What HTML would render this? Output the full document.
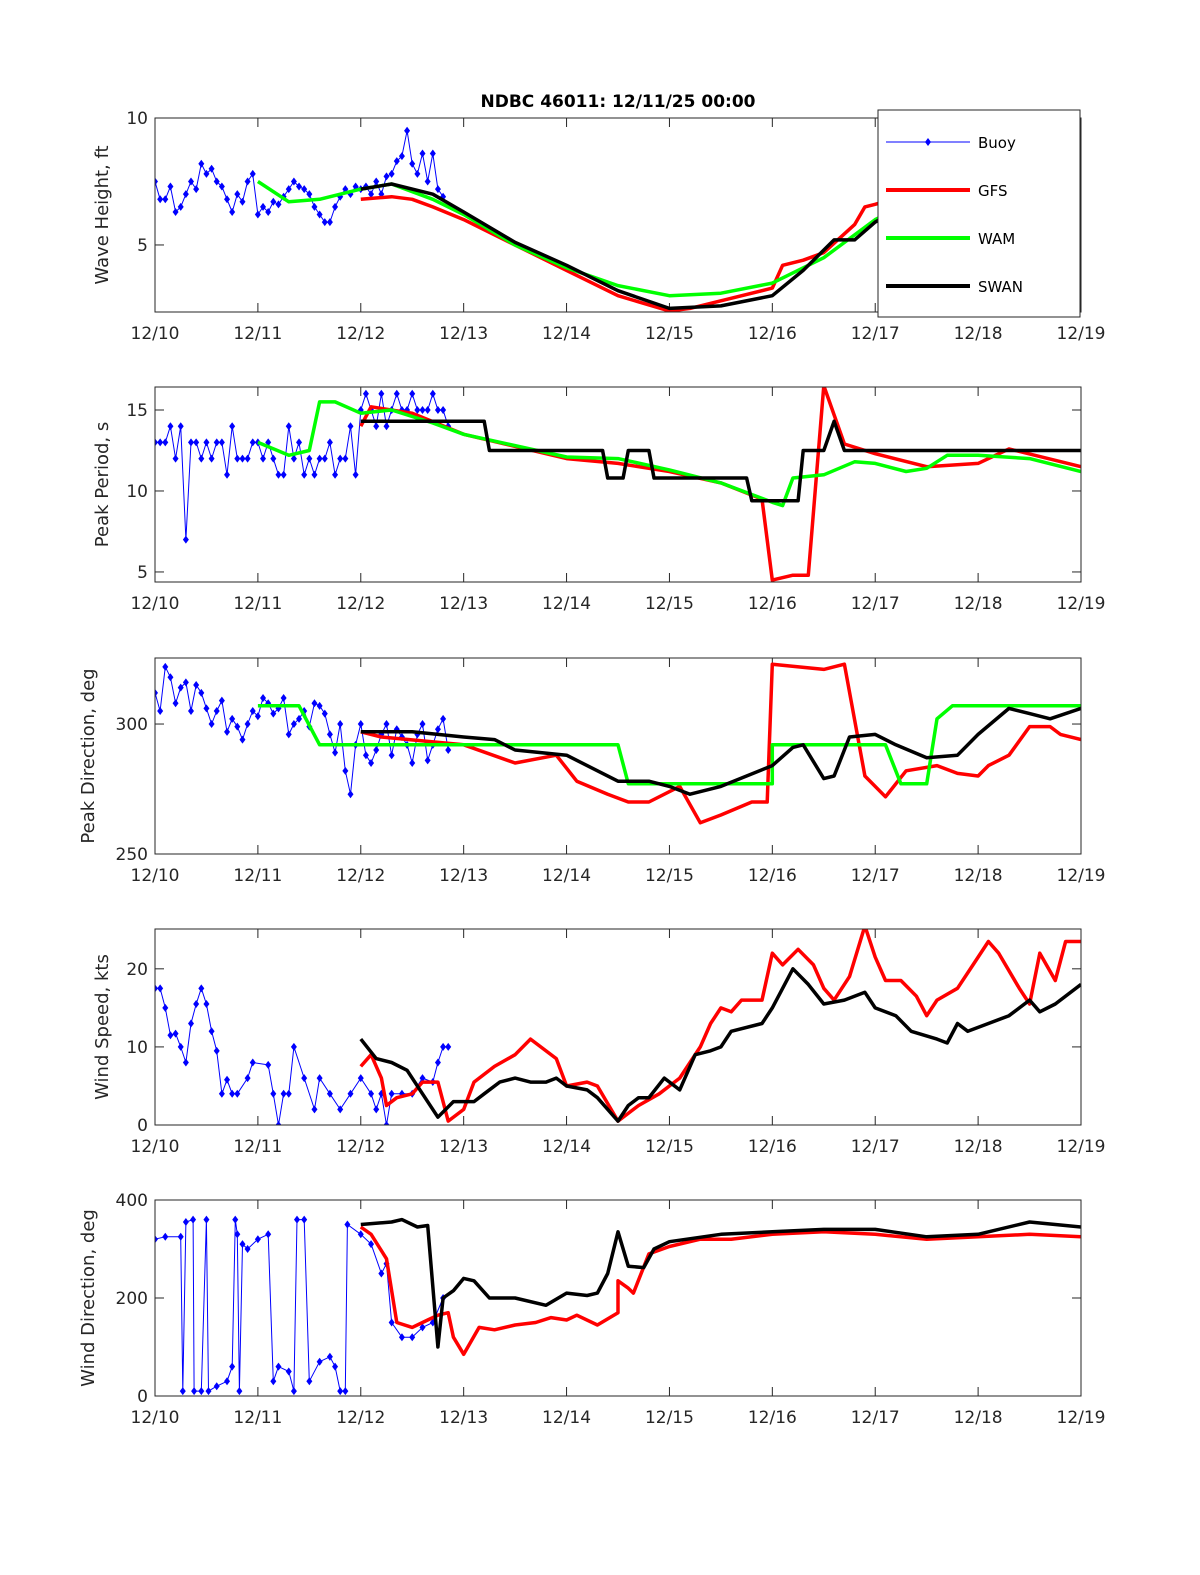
<!DOCTYPE html>
<html><head><meta charset="utf-8"><style>
html,body{margin:0;padding:0;background:#fff;}
svg{display:block;font-family:"DejaVu Sans","Liberation Sans",sans-serif;}
</style></head><body>
<svg id="chart" width="1200" height="1575" viewBox="0 0 1200 1575" xmlns="http://www.w3.org/2000/svg">
<rect width="1200" height="1575" fill="#fff"/>
<text x="618" y="107" text-anchor="middle" font-size="17" font-weight="bold">NDBC 46011: 12/11/25 00:00</text>
</svg>
<script>
const dayLabels=["12/10","12/11","12/12","12/13","12/14","12/15","12/16","12/17","12/18","12/19"];
// Panel 1: wave height
const hsBuoyVals=[7.5,6.8,6.8,7.3,6.3,6.5,7.0,7.5,7.2,8.2,7.8,8.0,7.5,7.3,6.8,6.3,7.0,6.7,7.5,7.8,6.2,6.5,6.3,6.7,6.6,6.9,7.2,7.5,7.3,7.2,7.0,6.5,6.2,5.9,5.9,6.5,6.9,7.2,7.0,7.3,7.2,7.3,7.0,7.5,7.0,7.7,7.8,8.3,8.5,9.5,8.2,7.8,8.6,7.5,8.6,7.2,6.9];
const hsGFS=[[2,6.8],[2.3,6.9],[2.5,6.8],[2.7,6.5],[3,6.0],[3.5,5.0],[4,4.0],[4.5,3.0],[5,2.4],[5.2,2.5],[5.5,2.8],[6,3.3],[6.1,4.2],[6.3,4.4],[6.5,4.7],[6.8,5.8],[6.9,6.5],[7,6.6],[7.5,7.2],[8,7.6],[8.5,7.7],[8.9,7.7],[9,8.1]];
const hsWAM=[[1,7.5],[1.3,6.7],[1.6,6.8],[2,7.2],[2.3,7.4],[2.7,6.8],[3,6.2],[3.5,5.0],[4,4.1],[4.5,3.4],[5,3.0],[5.5,3.1],[6,3.5],[6.5,4.5],[7,6.0],[7.5,7.0],[8,7.0],[8.5,6.6],[9,6.0]];
const hsSWAN=[[2,7.2],[2.3,7.4],[2.7,7.0],[3,6.3],[3.5,5.1],[4,4.2],[4.5,3.2],[5,2.5],[5.5,2.6],[6,3.0],[6.3,4.0],[6.6,5.2],[6.8,5.2],[7,5.9],[7.5,7.0],[8,7.7],[8.5,7.6],[8.9,7.4],[9,7.4]];
// Panel 2: peak period
const tpBuoyVals=[13,13,13,14,12,14,7,13,13,12,13,12,13,13,11,14,12,12,12,13,13,12,13,12,11,11,14,12,13,11,12,11,12,12,13,11,12,12,14,11,15,16,15,14,16,14,15,16,15,15,16,15,15,15,16,15,15,14];
const tpGFS=[[2,14],[2.1,15.2],[2.5,14.8],[3,13.5],[4,12.0],[4.5,11.7],[5,11.2],[5.5,10.5],[5.9,9.5],[6,4.5],[6.2,4.8],[6.35,4.8],[6.5,16.5],[6.7,12.9],[7,12.3],[7.5,11.5],[8,11.7],[8.3,12.6],[9,11.5]];
const tpWAM=[[1,13],[1.3,12.2],[1.5,12.5],[1.6,15.5],[1.75,15.5],[2,14.8],[2.3,15.0],[2.7,14.2],[3,13.5],[4,12.1],[4.5,12.0],[5,11.3],[5.5,10.5],[6,9.3],[6.1,9.1],[6.2,10.8],[6.5,11.0],[6.8,11.8],[7,11.7],[7.3,11.2],[7.5,11.4],[7.7,12.2],[8,12.2],[8.5,12.0],[9,11.2]];
const tpSWAN=[[2,14.3],[3.2,14.3],[3.25,12.5],[4.35,12.5],[4.4,10.8],[4.55,10.8],[4.6,12.5],[4.8,12.5],[4.85,10.8],[5.75,10.8],[5.8,9.4],[6.25,9.4],[6.3,12.5],[6.5,12.5],[6.6,14.3],[6.7,12.5],[9,12.5]];
// Panel 3: peak direction
const pdBuoyVals=[312,305,322,318,308,314,316,305,315,312,306,300,305,309,297,302,299,294,300,305,303,310,308,304,306,310,296,300,302,305,299,308,307,304,296,289,300,282,273,292,300,288,285,290,296,300,288,298,295,292,285,296,300,286,292,298,302,290];
const pdGFS=[[2,297],[2.2,295],[3,292],[3.5,285],[3.9,288],[4.1,278],[4.4,273],[4.6,270],[4.8,270],[5.1,276],[5.3,262],[5.5,265],[5.8,270],[5.95,270],[6.0,323],[6.5,321],[6.7,323],[6.9,280],[7.1,272],[7.3,282],[7.6,284],[7.8,281],[8.0,280],[8.1,284],[8.3,288],[8.5,299],[8.7,299],[8.8,296],[9,294]];
const pdWAM=[[1,307],[1.4,307],[1.6,292],[2,292],[4.5,292],[4.6,277],[6,277],[6.0,292],[7.1,292],[7.25,277],[7.5,277],[7.6,302],[7.75,307],[9,307]];
const pdSWAN=[[2,297],[2.5,297],[3,295],[3.3,294],[3.5,290],[4,288],[4.5,278],[4.8,278],[5,276],[5.2,273],[5.5,276],[6,284],[6.2,291],[6.3,292],[6.5,279],[6.6,280],[6.75,295],[7,296],[7.2,292],[7.5,287],[7.8,288],[8.0,296],[8.3,306],[8.5,304],[8.7,302],[9,306]];
// Panel 4: wind speed
const wsBuoy=[[0,17.5],[0.05,17.5],[0.1,15],[0.15,11.5],[0.2,11.7],[0.25,10],[0.3,8],[0.35,13],[0.4,15.5],[0.45,17.5],[0.5,15.5],[0.55,12],[0.6,9.5],[0.65,4],[0.7,5.8],[0.75,4],[0.8,4],[0.9,6],[0.95,8],[1.1,7.7],[1.15,4],[1.2,0],[1.25,4],[1.3,4],[1.35,10],[1.45,6],[1.55,2],[1.6,6],[1.7,4],[1.8,2],[1.9,4],[2,6],[2.1,4],[2.15,2],[2.2,4],[2.25,0],[2.3,4],[2.4,4],[2.5,4],[2.6,6],[2.7,5.5],[2.75,8],[2.8,10],[2.85,10]];
const wsGFS=[[2,7.5],[2.1,9],[2.2,6],[2.25,2.5],[2.35,3.5],[2.5,4],[2.6,5.5],[2.75,5.5],[2.85,0.5],[3,2],[3.1,5.5],[3.3,7.5],[3.5,9],[3.65,11],[3.9,8.5],[4,5],[4.2,5.5],[4.3,5],[4.5,0.5],[4.7,2.5],[4.9,4],[5,5],[5.1,6],[5.3,10],[5.4,13],[5.5,15],[5.6,14.5],[5.7,16],[5.9,16],[6,22],[6.1,20.5],[6.25,22.5],[6.4,20.5],[6.5,17.5],[6.6,16],[6.75,19],[6.9,25.5],[7,21.5],[7.1,18.5],[7.25,18.5],[7.4,16.5],[7.5,14],[7.6,16],[7.8,17.5],[7.95,20.5],[8.1,23.5],[8.2,22],[8.4,17.5],[8.5,15.5],[8.6,22],[8.75,18.5],[8.85,23.5],[9,23.5]];
const wsSWAN=[[2,11],[2.15,8.5],[2.3,8],[2.45,7],[2.6,4],[2.75,1],[2.9,3],[3.1,3],[3.2,4],[3.35,5.5],[3.5,6],[3.65,5.5],[3.8,5.5],[3.9,6],[4,5],[4.2,4.5],[4.3,3.5],[4.5,0.5],[4.6,2.5],[4.7,3.5],[4.8,3.5],[4.95,6],[5.1,4.5],[5.25,9],[5.4,9.5],[5.5,10],[5.6,12],[5.9,13],[6,15],[6.2,20],[6.35,18],[6.5,15.5],[6.7,16],[6.9,17],[7,15],[7.2,14],[7.35,12],[7.6,11],[7.7,10.5],[7.8,13],[7.9,12],[8.1,13],[8.3,14],[8.5,16],[8.6,14.5],[8.75,15.5],[9,18]];
// Panel 5: wind direction
const wdBuoy=[[0,320],[0.1,325],[0.25,325],[0.27,10],[0.3,355],[0.37,360],[0.38,10],[0.45,10],[0.5,360],[0.52,10],[0.6,20],[0.7,30],[0.75,60],[0.78,360],[0.8,330],[0.82,10],[0.85,310],[0.9,300],[1.0,320],[1.1,330],[1.15,30],[1.2,60],[1.3,50],[1.35,10],[1.38,360],[1.45,360],[1.5,30],[1.6,70],[1.7,80],[1.75,60],[1.8,10],[1.85,10],[1.87,350],[2.0,330],[2.1,310],[2.2,250],[2.25,270],[2.3,150],[2.4,120],[2.5,120],[2.6,140],[2.7,150],[2.8,200]];
const wdGFS=[[2,345],[2.1,330],[2.25,280],[2.35,150],[2.5,140],[2.65,155],[2.75,165],[2.85,170],[2.9,120],[3.0,85],[3.15,140],[3.3,135],[3.5,145],[3.7,150],[3.85,160],[4.0,155],[4.1,165],[4.3,145],[4.5,170],[4.5,235],[4.6,220],[4.65,210],[4.8,290],[5,305],[5.3,320],[5.6,320],[6,330],[6.5,335],[7,330],[7.5,320],[8,325],[8.5,330],[9,325]];
const wdSWAN=[[2,350],[2.3,355],[2.4,360],[2.55,345],[2.65,348],[2.75,100],[2.8,200],[2.9,215],[3.0,240],[3.1,235],[3.25,200],[3.5,200],[3.8,185],[4,210],[4.2,205],[4.3,210],[4.4,250],[4.5,335],[4.6,265],[4.75,262],[4.85,300],[5,315],[5.5,330],[6,335],[6.5,340],[7,340],[7.5,325],[8,330],[8.5,355],[9,345]];

const NS="http://www.w3.org/2000/svg";
const svg=document.getElementById('chart');
const X0=155,X1=1081;
function mk(tag,attrs,parent){const e=document.createElementNS(NS,tag);for(const k in attrs)e.setAttribute(k,attrs[k]);(parent||svg).appendChild(e);return e;}
function xs(t){return X0+(X1-X0)*t/9;}
const buoyT=i=>i*0.05;
function panel(o){
  const g=mk('g',{});
  
  
  const ys=v=>o.bot-(v-o.ymin)/(o.ymax-o.ymin)*(o.bot-o.top);
  const clipId='clip-'+o.name;
  const cp=mk('clipPath',{id:clipId},g);mk('rect',{x:X0,y:o.top,width:X1-X0,height:o.bot-o.top},cp);
  dayLabels.forEach((lab,i)=>{
    const x=xs(i);
    mk('line',{x1:x,y1:o.bot,x2:x,y2:o.bot-9,stroke:'#262626','stroke-width':1},g);
    mk('line',{x1:x,y1:o.top,x2:x,y2:o.top+9,stroke:'#262626','stroke-width':1},g);
    const t=mk('text',{x:x,y:o.bot+27,'text-anchor':'middle','font-size':17,fill:'#262626'},g);t.textContent=lab;
    
    
  });
  o.yticks.forEach(v=>{
    const y=ys(v);
    mk('line',{x1:X0,y1:y,x2:X0+9,y2:y,stroke:'#262626'},g);
    mk('line',{x1:X1,y1:y,x2:X1-9,y2:y,stroke:'#262626'},g);
    const t=mk('text',{x:X0-7,y:y+6,'text-anchor':'end','font-size':17,fill:'#262626'},g);t.textContent=v;
    
    
  });
  const yl=mk('text',{transform:`translate(${o.ylx},${(o.top+o.bot)/2}) rotate(-90)`,'text-anchor':'middle','font-size':18,fill:'#262626'},g);
  yl.textContent=o.ylabel;
  
  
  const dg=mk('g',{'clip-path':`url(#${clipId})`},g);
  function line(pts,color,w,nm){
    const p=mk('polyline',{points:pts.map(d=>xs(d[0]).toFixed(1)+','+ys(d[1]).toFixed(1)).join(' '),fill:'none',stroke:color,'stroke-width':w,'stroke-linejoin':'round'},dg);
    
    
  }
  if(o.buoy){
    line(o.buoy,'#0000ff',1,'buoy-line');
    o.buoy.forEach(d=>{
      const x=xs(d[0]),y=ys(d[1]);
      const m=mk('polygon',{points:`${x},${y-4} ${x+3},${y} ${x},${y+4} ${x-3},${y}`,fill:'#0000ff'},dg);
      
      
    });
  }
  if(o.gfs)line(o.gfs,'#ff0000',3.5,'gfs-line');
  if(o.wam)line(o.wam,'#00ff00',3.5,'wam-line');
  if(o.swan)line(o.swan,'#000000',3.5,'swan-line');
  mk('rect',{x:X0,y:o.top,width:X1-X0,height:o.bot-o.top,fill:'none',stroke:'#262626','stroke-width':1},g);
}
panel({name:'wave-height-panel',top:118,bot:312,ymin:2.36,ymax:10,yticks:[5,10],ylabel:'Wave Height, ft',ylx:108,
  buoy:hsBuoyVals.map((v,i)=>[buoyT(i),v]),gfs:hsGFS,wam:hsWAM,swan:hsSWAN});
panel({name:'peak-period-panel',top:387,bot:582,ymin:4.38,ymax:16.42,yticks:[5,10,15],ylabel:'Peak Period, s',ylx:108,
  buoy:tpBuoyVals.map((v,i)=>[buoyT(i),v]),gfs:tpGFS,wam:tpWAM,swan:tpSWAN});
panel({name:'peak-direction-panel',top:658,bot:854,ymin:250,ymax:325.4,yticks:[250,300],ylabel:'Peak Direction, deg',ylx:94,
  buoy:pdBuoyVals.map((v,i)=>[buoyT(i),v]),gfs:pdGFS,wam:pdWAM,swan:pdSWAN});
panel({name:'wind-speed-panel',top:929,bot:1125,ymin:0,ymax:25.1,yticks:[0,10,20],ylabel:'Wind Speed, kts',ylx:108,
  buoy:wsBuoy,gfs:wsGFS,swan:wsSWAN});
panel({name:'wind-direction-panel',top:1200,bot:1396,ymin:0,ymax:400,yticks:[0,200,400],ylabel:'Wind Direction, deg',ylx:94,
  buoy:wdBuoy,gfs:wdGFS,swan:wdSWAN});

const lg=mk('g',{});


mk('rect',{x:878,y:110,width:202,height:207,fill:'#fff',stroke:'#262626','stroke-width':1},lg);
const legItems=[['Buoy','#0000ff',1],['GFS','#ff0000',4],['WAM','#00ff00',4],['SWAN','#000000',4]];
legItems.forEach((it,i)=>{
  const y=142+i*48;
  const e=mk('g',{},lg);
  
  
  mk('line',{x1:886,y1:y,x2:970,y2:y,stroke:it[1],'stroke-width':it[2]},e);
  if(i===0)mk('polygon',{points:`928,${y-4} 931,${y} 928,${y+4} 925,${y}`,fill:'#0000ff'},e);
  const t=mk('text',{x:978,y:y+6,'font-size':15,fill:'#000'},e);t.textContent=it[0];
});
</script>
</body></html>
